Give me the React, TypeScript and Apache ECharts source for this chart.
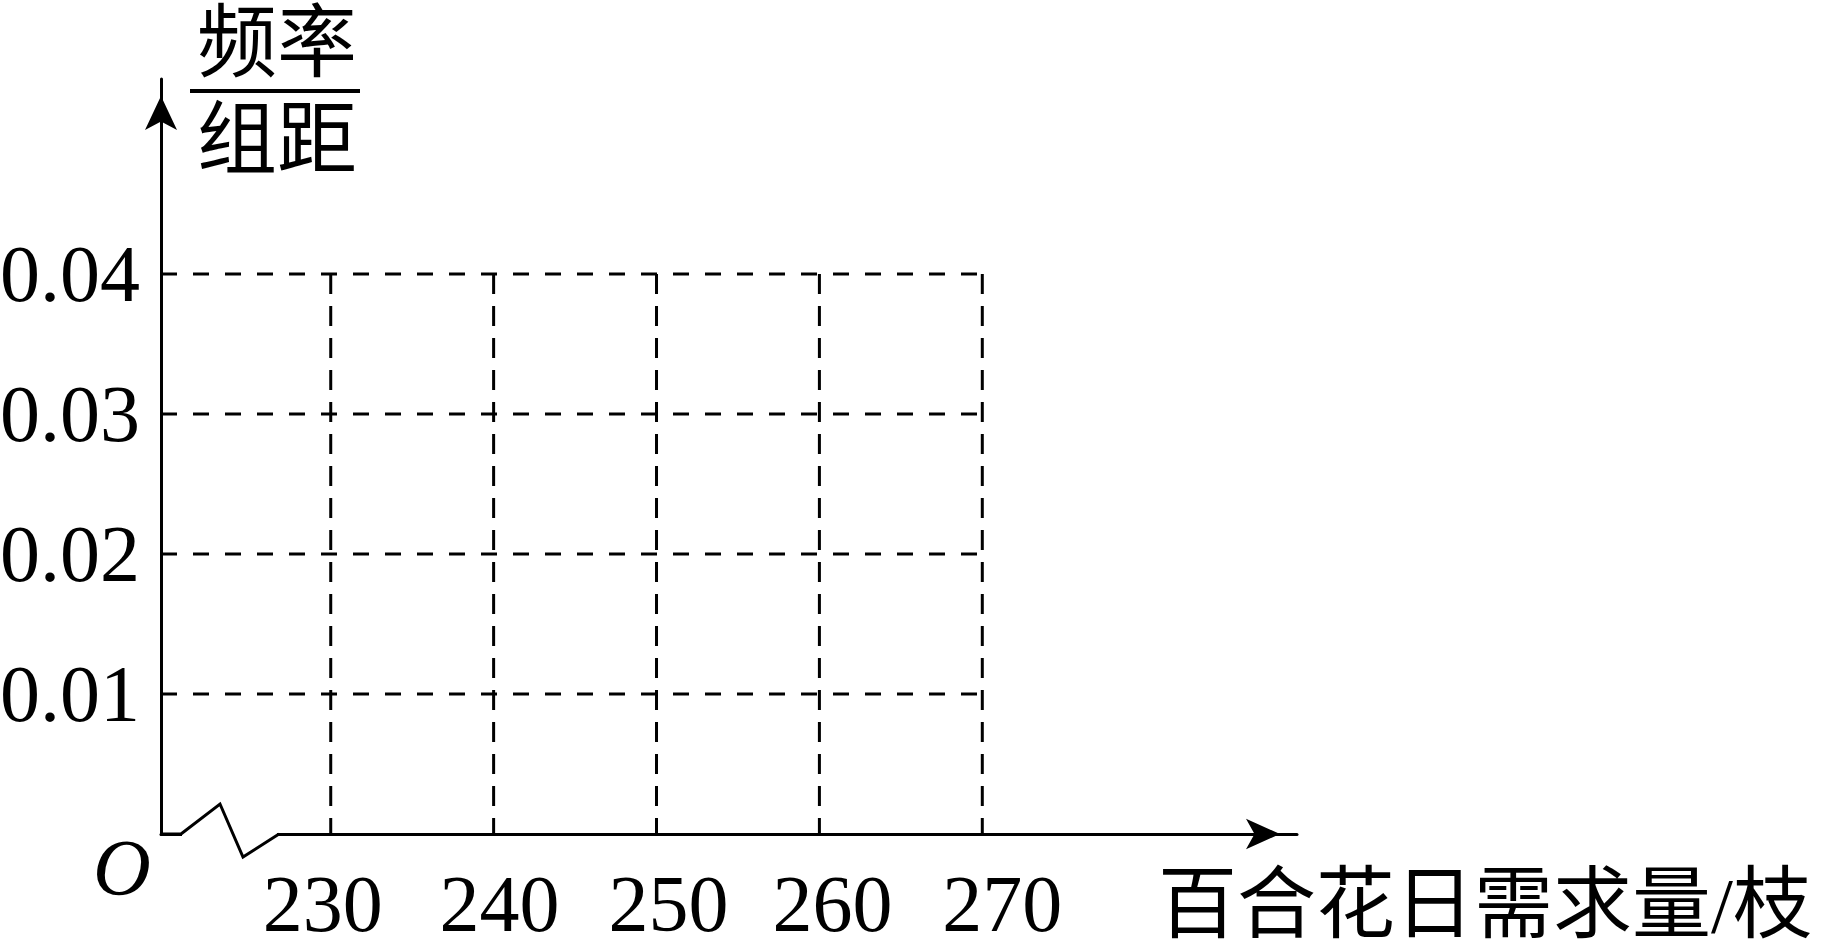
import React, { useEffect, useRef } from "react";
import * as echarts from "echarts";

// Tick values on the axes
const xTicks: number[] = [230, 240, 250, 260, 270];
const yTicks: number[] = [0.01, 0.02, 0.03, 0.04];
const yTickLabels: string[] = ["0.01", "0.02", "0.03", "0.04"];
const xTickLabels: string[] = ["230", "240", "250", "260", "270"];

// Axis ranges (the x axis is broken near the origin)
const X_MIN = 219.58;
const X_MAX = 289.32;
const Y_MIN = 0;
const Y_MAX = 0.05393;

const xAxisName = "百合花日需求量/枝";
const yNameTop = "频率";
const yNameBottom = "组距";
const originLabel = "O";

const SERIF = "'Liberation Serif', 'Times New Roman', serif";
const CJK = "'Liberation Serif', 'Noto Sans CJK SC', sans-serif";

// per-label horizontal nudges (layout only): [padLeft, padRight]
const xLabelPads: number[][] = [
  [0, 16],
  [12, 0],
  [24, 0],
  [26, 0],
  [40, 0],
];

export default function App() {
  const ref = useRef<HTMLDivElement>(null);

  useEffect(() => {
    if (!ref.current) return;
    const chart = echarts.init(ref.current, undefined, { renderer: "svg" });

    const yTop = yTicks[yTicks.length - 1];
    const xRight = xTicks[xTicks.length - 1];

    const horizontal = yTicks.map((y) => ({
      type: "line",
      silent: true,
      symbol: "none",
      animation: false,
      lineStyle: { color: "#000", width: 3, type: [16, 16] },
      data: [
        [X_MIN, y],
        [xRight, y],
      ],
    }));
    const vertical = xTicks.map((x) => ({
      type: "line",
      silent: true,
      symbol: "none",
      animation: false,
      lineStyle: { color: "#000", width: 3, type: [20, 12] },
      data: [
        [x, yTop],
        [x, 0],
      ],
    }));

    const rich: any = {};
    xLabelPads.forEach((p, i) => {
      rich["l" + i] = {
        fontFamily: SERIF,
        fontSize: 80,
        color: "#000",
        padding: [0, p[1], 0, p[0]],
      };
    });

    const option: any = {
      animation: false,
      backgroundColor: "#fff",
      grid: {
        left: 161,
        right: 1825 - 1297,
        top: 79,
        bottom: 947 - 834,
        containLabel: false,
        outerBoundsMode: "none",
      },
      xAxis: {
        type: "value",
        min: X_MIN,
        max: X_MAX,
        axisLine: {
          show: true,
          onZero: false,
          symbol: ["none", "arrow"],
          symbolSize: [23, 34],
          symbolOffset: [0, -17],
          lineStyle: { color: "#000", width: 3 },
        },
        axisTick: { show: false },
        splitLine: { show: false },
        axisLabel: {
          customValues: xTicks,
          formatter: (v: number) => {
            const i = xTicks.indexOf(v);
            return i >= 0 ? `{l${i}|${xTickLabels[i]}}` : String(v);
          },
          rich,
          fontFamily: SERIF,
          fontSize: 80,
          color: "#000",
          margin: 30,
        },
      },
      yAxis: {
        type: "value",
        min: Y_MIN,
        max: Y_MAX,
        axisLine: {
          show: true,
          onZero: false,
          symbol: ["none", "arrow"],
          symbolSize: [24, 34],
          symbolOffset: [0, -17],
          lineStyle: { color: "#000", width: 3 },
        },
        axisTick: { show: false },
        splitLine: { show: false },
        axisLabel: {
          customValues: yTicks,
          formatter: (v: number) => {
            const i = yTicks.findIndex((t) => Math.abs(t - v) < 1e-9);
            return i >= 0 ? yTickLabels[i] : String(v);
          },
          fontFamily: SERIF,
          fontSize: 80,
          color: "#000",
          margin: 21,
        },
      },
      series: [...horizontal, ...vertical],
      graphic: [
        {
          type: "rect",
          z: 100,
          shape: { x: 182, y: 830, width: 95, height: 8 },
          style: { fill: "#fff" },
        },
        {
          type: "polyline",
          z: 101,
          shape: {
            points: [
              [160, 834],
              [181, 834],
              [220, 804],
              [243, 857],
              [279, 834],
            ],
          },
          style: { stroke: "#000", lineWidth: 3, fill: "none", lineJoin: "miter" },
        },
        {
          type: "text",
          z: 101,
          x: 122,
          y: 868,
          style: {
            text: originLabel,
            font: `italic 80px ${SERIF}`,
            fill: "#000",
            textAlign: "center",
            textVerticalAlign: "middle",
          },
        },
        {
          type: "text",
          z: 101,
          x: 277,
          y: 43,
          style: {
            text: yNameTop,
            font: `80px ${CJK}`,
            fill: "#000",
            textAlign: "center",
            textVerticalAlign: "middle",
          },
        },
        {
          type: "line",
          z: 101,
          shape: { x1: 190, y1: 91, x2: 360, y2: 91 },
          style: { stroke: "#000", lineWidth: 4 },
        },
        {
          type: "text",
          z: 101,
          x: 277,
          y: 140,
          style: {
            text: yNameBottom,
            font: `80px ${CJK}`,
            fill: "#000",
            textAlign: "center",
            textVerticalAlign: "middle",
          },
        },
        {
          type: "text",
          z: 101,
          x: 1812,
          y: 905,
          style: {
            text: xAxisName,
            font: `79px ${CJK}`,
            fill: "#000",
            textAlign: "right",
            textVerticalAlign: "middle",
          },
        },
      ],
    };

    chart.setOption(option);
    return () => chart.dispose();
  }, []);

  return (
    <div
      ref={ref}
      style={{ position: "fixed", left: 0, top: 0, width: 1825, height: 947, background: "#fff" }}
    />
  );
}
